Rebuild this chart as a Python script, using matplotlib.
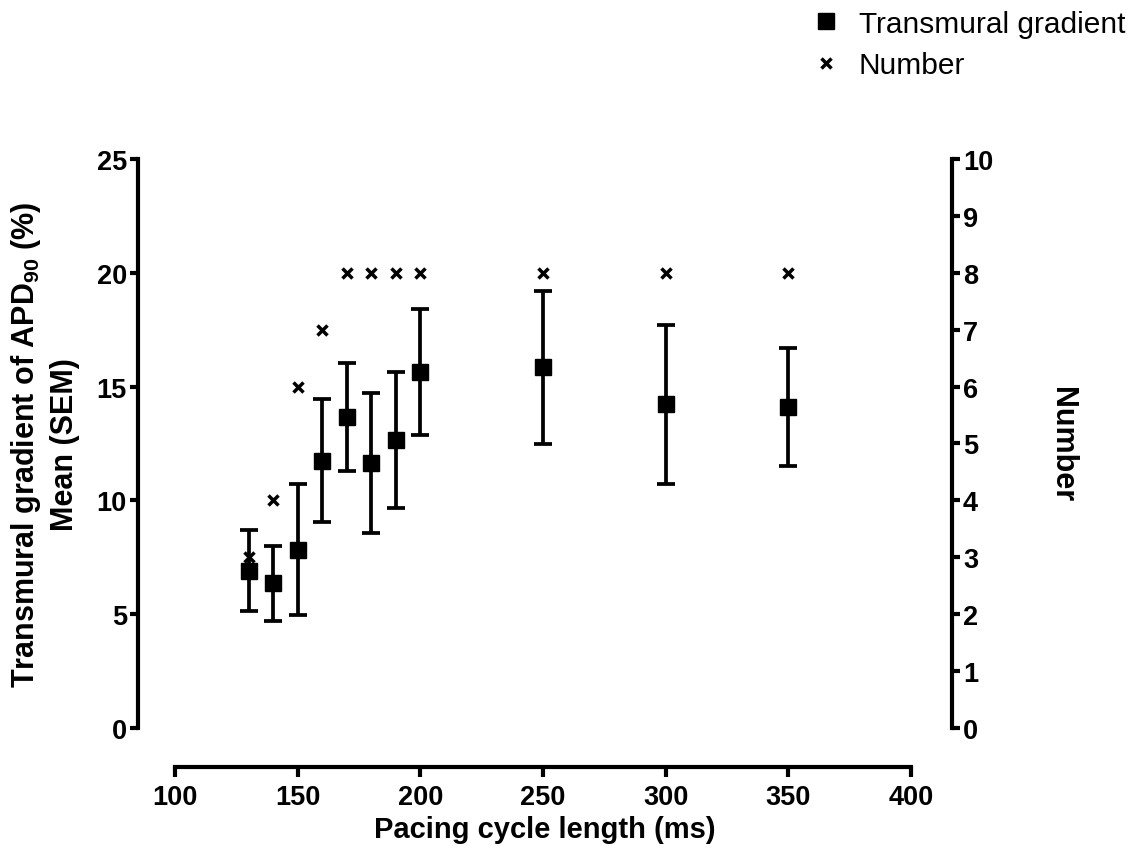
import matplotlib
matplotlib.use("Agg")
from matplotlib import pyplot as plt
from matplotlib.lines import Line2D

plt.rcParams["font.family"] = ["Liberation Sans", "DejaVu Sans"]
plt.rcParams["mathtext.fontset"] = "custom"
plt.rcParams["mathtext.bf"] = "Liberation Sans:bold"
plt.rcParams["mathtext.rm"] = "Liberation Sans:bold"
plt.rcParams["mathtext.default"] = "bf"

# data
cycle_length = [130, 140, 150, 160, 170, 180, 190, 200, 250, 300, 350]
gradient_mean = [6.90, 6.35, 7.83, 11.75, 13.66, 11.65, 12.66, 15.65, 15.84, 14.22, 14.11]
gradient_sem = [1.78, 1.63, 2.87, 2.72, 2.38, 3.07, 2.98, 2.76, 3.36, 3.49, 2.60]
number = [3, 4, 6, 7, 8, 8, 8, 8, 8, 8, 8]

x_ticks = [100, 150, 200, 250, 300, 350, 400]
left_ticks = [0, 5, 10, 15, 20, 25]
right_ticks = list(range(0, 11))

fig = plt.figure(figsize=(11.42, 8.54), dpi=100)
ax = fig.add_axes([0.1208, 0.1464, 0.7128, 0.6663])
ax2 = ax.twinx()

lw = 3.0
ax.errorbar(cycle_length, gradient_mean, yerr=gradient_sem, fmt="s", color="black",
            ms=11, elinewidth=2.7, capsize=6.5, capthick=2.7, clip_on=False, zorder=3)
ax2.plot(cycle_length, number, "x", color="black", ms=6.5, mew=2.5, clip_on=False)

ax.set_xlim(84.9, 416.7)
ax.set_ylim(0, 25)
ax2.set_ylim(0, 10)

for a in (ax, ax2):
    a.spines["top"].set_visible(False)
    for s in a.spines.values():
        s.set_linewidth(lw)
    a.patch.set_visible(False)
ax2.spines["left"].set_visible(False)
ax2.spines["bottom"].set_visible(False)
ax.spines["right"].set_visible(False)

ax.spines["bottom"].set_position(("outward", 28))
ax.spines["bottom"].set_bounds(100, 400)

ax.set_xticks(x_ticks)
ax.set_yticks(left_ticks)
ax2.set_yticks(right_ticks)

ax.tick_params(axis="both", direction="out", length=6, width=lw, pad=2)
ax.tick_params(axis="x", length=7, pad=5)
ax2.tick_params(axis="y", direction="out", length=6, width=lw, pad=2)
for lbl in ax.get_xticklabels() + ax.get_yticklabels() + ax2.get_yticklabels():
    lbl.set_fontsize(19.5)
    lbl.set_fontweight("bold")

ax.set_xlabel("Pacing cycle length (ms)", fontsize=21, fontweight="bold", labelpad=4)
ax.set_ylabel("Transmural gradient of APD$_{90}$ (%)\nMean (SEM)", fontsize=22,
              fontweight="bold", labelpad=12, linespacing=1.3)
ax2.set_ylabel("Number", fontsize=22, fontweight="bold", rotation=270, labelpad=60)

handles = [Line2D([], [], ls="none", marker="s", ms=11, color="black"),
           Line2D([], [], ls="none", marker="x", ms=6.5, mew=2.5, color="black")]
fig.legend(handles, ["Transmural gradient", "Number"], loc="upper right",
           bbox_to_anchor=(1.009, 1.019), frameon=False, fontsize=21.5,
           handletextpad=0.5, labelspacing=0.45, handlelength=1.2)

fig.savefig("out.png", dpi=100)
